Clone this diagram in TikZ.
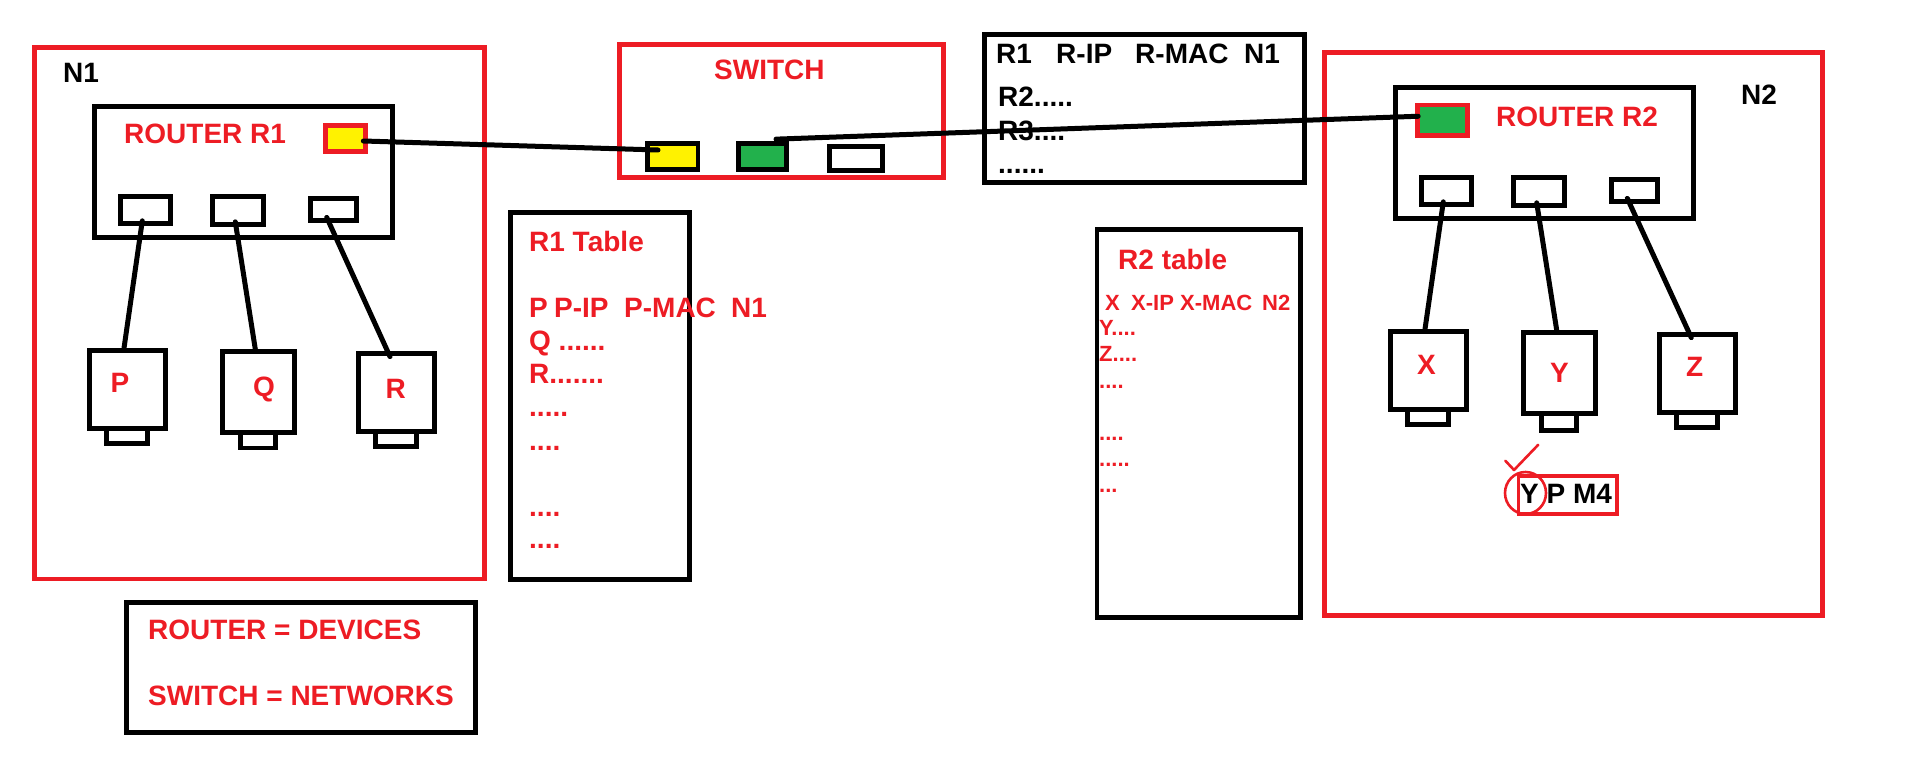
\documentclass[tikz,border=0pt]{standalone}
\usepackage{fontspec}
\usetikzlibrary{shapes.geometric}
\setmainfont{Liberation Sans}
\definecolor{pred}{HTML}{ED1C24}
\definecolor{pyel}{HTML}{FFF200}
\definecolor{pgrn}{HTML}{22B14C}
\newcommand\rbox[6]{\node[#1,minimum width={(#5-#3)*1pt},minimum height={(#6-#4)*1pt}] (#2) at ({(#3+#5)/2},{(#4+#6)/2}) {};}
\tikzset{
  bk/.style={draw=black,line width=4.7pt,inner sep=0pt,rectangle},
  rd/.style={draw=pred,line width=4.7pt,inner sep=0pt,rectangle},
  lbl/.style={anchor=base west,inner sep=0pt,font=\fontsize{28}{28}\selectfont\bfseries},
  sml/.style={anchor=base west,inner sep=0pt,font=\fontsize{22}{22}\selectfont\bfseries},
  rl/.style={lbl,text=pred},
  kl/.style={lbl,text=black},
  rs/.style={sml,text=pred},
  wire/.style={draw=black,line width=5pt,line cap=round},
}
\begin{document}
\begin{tikzpicture}[x=1pt,y=-1pt]
\useasboundingbox (0,0) rectangle (1914,773);
% big boxes
\rbox{rd}{nA}{34.5}{47.5}{484.5}{579}
\rbox{rd}{nB}{1324.5}{52.5}{1822.5}{615.5}
\rbox{rd}{sw}{619.5}{44.5}{943.5}{177.5}
\rbox{bk}{rA}{94.3}{106.5}{392.7}{237.5}
\rbox{bk}{rB}{1395.5}{87.5}{1693.5}{218.5}
\rbox{bk}{tT}{984.5}{34.5}{1304.5}{182.5}
\rbox{bk}{tA}{510.5}{212.5}{689.5}{579.5}
\rbox{bk}{tB}{1097}{229.5}{1300.5}{617.5}
\rbox{bk}{note}{126.5}{602.5}{475.5}{732.5}
% R1 ports
\rbox{rd,fill=pyel}{upA}{325.5}{125.5}{365.5}{151.5}
\rbox{bk}{aA}{120.5}{196.5}{170.5}{223.5}
\rbox{bk}{aB}{212.5}{196.5}{263.5}{224.5}
\rbox{bk}{aC}{310.5}{198.5}{356.5}{220.5}
% R2 ports
\rbox{rd,fill=pgrn}{upB}{1417.5}{105}{1467.5}{135.5}
\rbox{bk}{bA}{1421.5}{177.5}{1471.5}{204.5}
\rbox{bk}{bB}{1513.5}{177.5}{1564.5}{205.5}
\rbox{bk}{bC}{1611.5}{179.5}{1657.5}{201.5}
% switch ports
\rbox{bk,fill=pyel}{sA}{647.5}{143.5}{698}{169.5}
\rbox{bk,fill=pgrn}{sB}{738.5}{143.5}{786.5}{169.5}
\rbox{bk}{sC}{829.5}{146.5}{882.5}{170.5}
% computers N1
\rbox{bk}{pS}{106.5}{428.5}{147.5}{443.5}
\rbox{bk}{qS}{240.5}{432.5}{275.5}{448}
\rbox{bk}{rS}{375.5}{431.5}{416.5}{446.5}
\rbox{bk}{pC}{89.5}{350.5}{165.5}{428.5}
\rbox{bk}{qC}{222.5}{351.5}{294.5}{432.5}
\rbox{bk}{rC}{358.5}{353.5}{434.5}{431.5}
% computers N2
\rbox{bk}{xS}{1407.5}{409.5}{1448.5}{424.5}
\rbox{bk}{yS}{1541.5}{413.5}{1576.5}{430.5}
\rbox{bk}{zS}{1676.5}{412.5}{1717.5}{427.5}
\rbox{bk}{xC}{1390.5}{331.5}{1466.5}{409.5}
\rbox{bk}{yC}{1523.5}{332.5}{1595.5}{413.5}
\rbox{bk}{zC}{1659.5}{334.5}{1735.5}{412.5}
% labels
\node[kl] (lnA) at (63,82.7) {N1};
\node[kl] (lnB) at (1741,104.3) {N2};
\node[rl] (lrA) at (124,143.3) {ROUTER R1};
\node[rl] (lrB) at (1496,126.7) {ROUTER R2};
\node[rl] (lsw) at (714,80) {SWITCH};
\node[rl] (lp) at (110.5,392.7) {P};
\node[rl] (lq) at (253,396) {Q};
\node[rl] (lr) at (385.5,398.3) {R};
\node[rl] (lx) at (1417,374.3) {X};
\node[rl] (ly) at (1550,382) {Y};
\node[rl] (lz) at (1686,376.7) {Z};
% top table
\node[kl] (t1) at (996,63.3) {R1};
\node[kl] (t2) at (1056,63.3) {R-IP};
\node[kl] (t3) at (1135,63.3) {R-MAC};
\node[kl] (t4) at (1244,63.3) {N1};
\node[kl] (t5) at (998,107) {R2.....};
\node[kl] (t6) at (998,140.7) {R3....};
\node[kl] (t7) at (998,173.3) {......};
% R1 table
\node[rl] (a0) at (529,251.7) {R1 Table};
\node[rl] (a1) at (529,317.3) {P};
\node[rl] (a2) at (554,317.3) {P-IP};
\node[rl] (a3) at (624,317.3) {P-MAC};
\node[rl] (a4) at (731,317.3) {N1};
\node[rl] (a5) at (529,350.7) {Q ......};
\node[rl] (a6) at (529,383) {R.......};
\node[rl] (a7) at (529,416.7) {.....};
\node[rl] (a8) at (529,450) {....};
\node[rl] (a9) at (529,516) {....};
\node[rl] (a10) at (529,548.7) {....};
% R2 table
\node[rl] (b0) at (1118,269.3) {R2 table};
\node[rs] (b1) at (1105,310) {X};
\node[rs] (b2) at (1131,310) {X-IP};
\node[rs] (b3) at (1180,310) {X-MAC};
\node[rs] (b4) at (1262,310) {N2};
\node[rs] (b5) at (1099,335.3) {Y....};
\node[rs] (b6) at (1099,361) {Z....};
\node[rs] (b7) at (1099,388) {....};
\node[rs] (b8) at (1099,440) {....};
\node[rs] (b9) at (1099,466) {.....};
\node[rs] (b10) at (1099,492) {...};
% note
\node[rl] (n1) at (148,639) {ROUTER = DEVICES};
\node[rl] (n2) at (148,705) {SWITCH = NETWORKS};
% packet label
\rbox{draw=pred,line width=3.6pt,inner sep=0pt,rectangle}{pkt}{1518.5}{476}{1617}{514}
\node[kl] (ypm) at (1520,503.3) {Y P M4};
\node[draw=pred,line width=2.6pt,ellipse,inner sep=0pt,minimum width=41pt,minimum height=42pt] (ring) at (1525.5,493) {};
\coordinate (ck1) at (1505.3,460.7);
\coordinate (ck2) at (1514,470);
\coordinate (ck3) at (1538.3,444.7);
\draw[draw=pred,line width=2.6pt,line cap=round,line join=round] (ck1) -- (ck2) -- (ck3);
% connectors
\draw[wire] ([xshift=-4.5pt,yshift=-2.5pt]upA.east) -- ([xshift=-14.75pt,yshift=6.5pt]sA.center);
\draw[wire] ([xshift=13.5pt,yshift=2pt]sB.north) -- ([xshift=3pt,yshift=4pt]upB.west);
\draw[wire] ([xshift=-3.2pt,yshift=5pt]aA.south) -- ([xshift=-3.5pt]pC.north);
\draw[wire] ([xshift=-2.7pt,yshift=5pt]aB.south) -- ([xshift=-3.2pt]qC.north);
\draw[wire] ([xshift=-6.8pt,yshift=5.5pt]aC.south) -- ([xshift=-6.5pt,yshift=-5.5pt]rC.north);
\draw[wire] ([xshift=-3.2pt,yshift=5pt]bA.south) -- ([xshift=-3.5pt]xC.north);
\draw[wire] ([xshift=-2.3pt,yshift=5pt]bB.south) -- ([xshift=-2.8pt]yC.north);
\draw[wire] ([xshift=-7.2pt,yshift=5.5pt]bC.south) -- ([xshift=-6.2pt,yshift=-5.5pt]zC.north);
\end{tikzpicture}
\end{document}
